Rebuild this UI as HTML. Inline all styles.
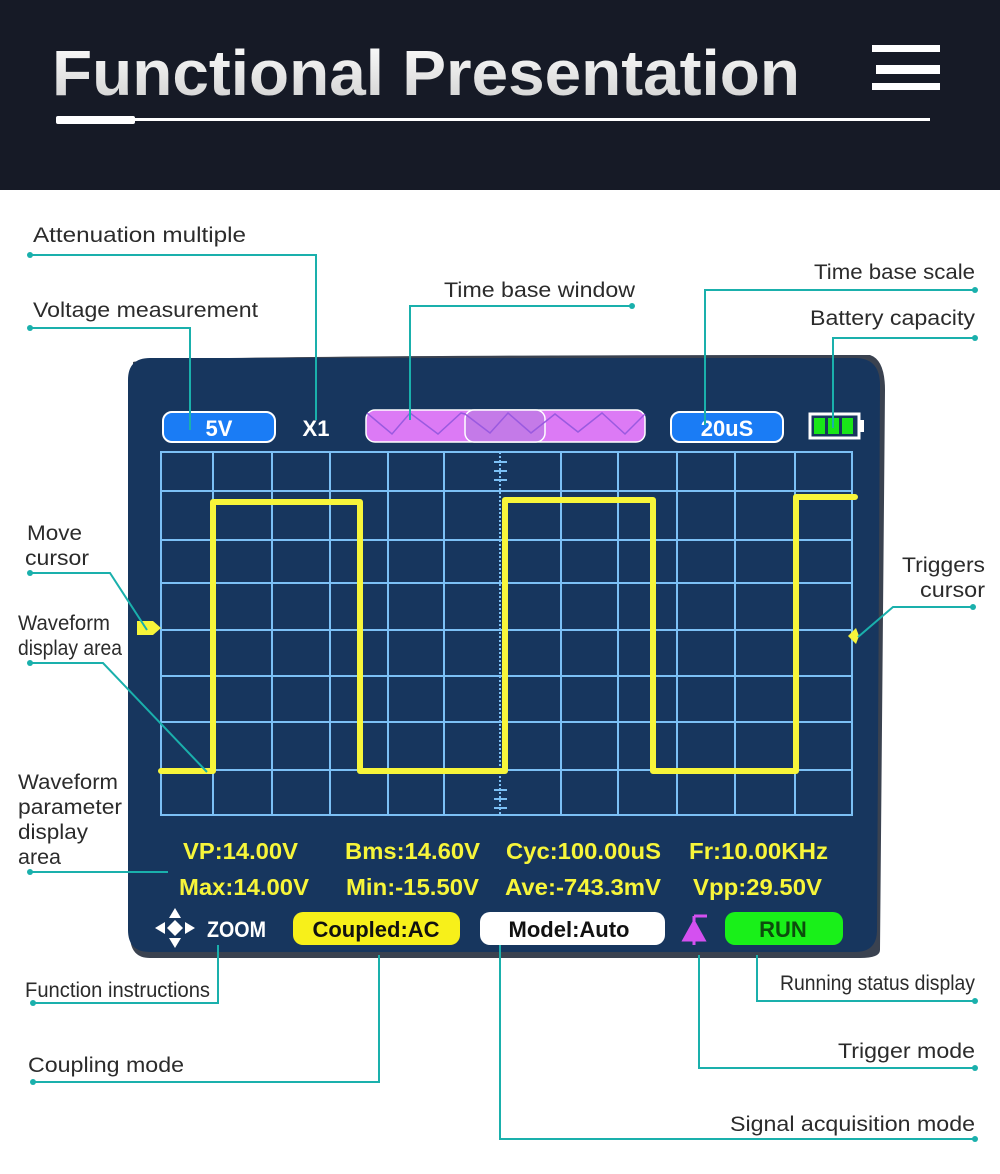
<!DOCTYPE html>
<html><head><meta charset="utf-8"><style>
html,body{margin:0;padding:0;background:#fff}
svg{display:block}
.lb{font-family:"Liberation Sans",sans-serif;font-size:21px;fill:#2b2b2b}
.ln{stroke:#1ab0ac;stroke-width:2;fill:none}
.dt{fill:#1ab0ac}
.p{font-family:"Liberation Sans",sans-serif;font-weight:bold;font-size:23px;fill:#f7f53a}
.b{font-family:"Liberation Sans",sans-serif;font-weight:bold;font-size:22px}
</style></head><body>
<svg width="1000" height="1174" viewBox="0 0 1000 1174" xmlns="http://www.w3.org/2000/svg">
<defs>
<linearGradient id="tg" x1="0" y1="0" x2="0" y2="1"><stop offset="0" stop-color="#ffffff"/><stop offset="1" stop-color="#cfcfcf"/></linearGradient>
</defs>
<rect x="0" y="0" width="1000" height="190" fill="#161a26"/>
<text x="52" y="95" font-family="Liberation Sans, sans-serif" font-weight="bold" font-size="64" fill="url(#tg)" textLength="748" lengthAdjust="spacingAndGlyphs">Functional Presentation</text>
<rect x="56" y="116" width="79" height="8" rx="2" fill="#fff"/>
<rect x="135" y="118" width="795" height="3" fill="#fff"/>
<rect x="872" y="45" width="68" height="7" fill="#fff"/>
<rect x="876" y="65" width="64" height="9" fill="#fff"/>
<rect x="872" y="83" width="68" height="7" fill="#fff"/>

<!-- screen -->
<path d="M133 362 Q160 355 870 355 Q885 360 885 390 L880 950 Q880 958 860 958 L150 958 Q130 958 130 935 Z" fill="#3a4250"/>
<path d="M128 380 Q128 358 150 358 L855 358 Q880 358 880 385 L877 930 Q877 952 855 952 L150 952 Q128 952 128 930 Z" fill="#17365e"/>

<!-- top bar -->
<rect x="163" y="412" width="112" height="30" rx="9" fill="#1a7cf5" stroke="#fff" stroke-width="2"/>
<text class="b" x="219" y="436" fill="#fff" text-anchor="middle">5V</text>
<text class="b" x="316" y="436" fill="#fff" text-anchor="middle">X1</text>
<rect x="366" y="410" width="279" height="32" rx="9" fill="#dc7af5" stroke="#fff" stroke-width="1.5"/>
<rect x="465" y="410" width="80" height="32" rx="9" fill="#c47ae8" stroke="#fff" stroke-width="1.5"/>
<polyline points="367,413 392,434 410,413 438,434 461,413 465,414 490,433 508,413 531,433 555,414 578,432 602,413 625,434 645,414" fill="none" stroke="#9a5ae0" stroke-width="1.5"/>
<rect x="671" y="412" width="112" height="30" rx="9" fill="#1a7cf5" stroke="#fff" stroke-width="2"/>
<text class="b" x="727" y="436" fill="#fff" text-anchor="middle">20uS</text>
<rect x="810" y="414" width="49" height="24" fill="none" stroke="#fff" stroke-width="3"/>
<rect x="859" y="420" width="5" height="12" fill="#fff"/>
<rect x="814" y="418" width="11" height="16" fill="#19e619"/>
<rect x="828" y="418" width="11" height="16" fill="#19e619"/>
<rect x="842" y="418" width="11" height="16" fill="#19e619"/>

<!-- grid -->
<g stroke="#7cc0f5" stroke-width="2" fill="none">
<rect x="161" y="452" width="691" height="363"/>
<line x1="213" y1="452" x2="213" y2="815"/><line x1="272" y1="452" x2="272" y2="815"/>
<line x1="330" y1="452" x2="330" y2="815"/><line x1="388" y1="452" x2="388" y2="815"/>
<line x1="444" y1="452" x2="444" y2="815"/><line x1="561" y1="452" x2="561" y2="815"/>
<line x1="618" y1="452" x2="618" y2="815"/><line x1="677" y1="452" x2="677" y2="815"/>
<line x1="735" y1="452" x2="735" y2="815"/><line x1="795" y1="452" x2="795" y2="815"/>
<line x1="161" y1="491" x2="852" y2="491"/><line x1="161" y1="540" x2="852" y2="540"/>
<line x1="161" y1="583" x2="852" y2="583"/><line x1="161" y1="630" x2="852" y2="630"/>
<line x1="161" y1="676" x2="852" y2="676"/><line x1="161" y1="722" x2="852" y2="722"/>
<line x1="161" y1="770" x2="852" y2="770"/>
<line x1="500" y1="452" x2="500" y2="815" stroke-dasharray="2,2"/>
<line x1="494" y1="462" x2="507" y2="462"/><line x1="494" y1="471" x2="507" y2="471"/><line x1="494" y1="480" x2="507" y2="480"/>
<line x1="494" y1="790" x2="507" y2="790"/><line x1="494" y1="799" x2="507" y2="799"/><line x1="494" y1="808" x2="507" y2="808"/>
</g>
<polyline points="161,771 213,771 213,502 360,502 360,771 505,771 505,500 653,500 653,771 796,771 796,497 855,497" fill="none" stroke="#f7f53a" stroke-width="6" stroke-linejoin="round" stroke-linecap="round"/>
<polygon points="137,621 153,621 161,628 153,635 137,635" fill="#f7f53a"/>
<polygon points="848,636 856,628 859,636 856,644" fill="#f7f53a"/>

<!-- params -->
<text class="p" x="183" y="859" textLength="115" lengthAdjust="spacingAndGlyphs">VP:14.00V</text>
<text class="p" x="345" y="859" textLength="135" lengthAdjust="spacingAndGlyphs">Bms:14.60V</text>
<text class="p" x="506" y="859" textLength="155" lengthAdjust="spacingAndGlyphs">Cyc:100.00uS</text>
<text class="p" x="689" y="859" textLength="139" lengthAdjust="spacingAndGlyphs">Fr:10.00KHz</text>
<text class="p" x="179" y="895" textLength="130" lengthAdjust="spacingAndGlyphs">Max:14.00V</text>
<text class="p" x="346" y="895" textLength="133" lengthAdjust="spacingAndGlyphs">Min:-15.50V</text>
<text class="p" x="505" y="895" textLength="156" lengthAdjust="spacingAndGlyphs">Ave:-743.3mV</text>
<text class="p" x="693" y="895" textLength="129" lengthAdjust="spacingAndGlyphs">Vpp:29.50V</text>

<!-- bottom bar -->
<g fill="#fff">
<polygon points="175,908 181,918 169,918"/><polygon points="175,948 181,938 169,938"/>
<polygon points="155,928 165,922 165,934"/><polygon points="195,928 185,922 185,934"/>
<polygon points="175,920 183,928 175,936 167,928"/>
</g>
<text class="b" x="207" y="937" fill="#fff" textLength="59" lengthAdjust="spacingAndGlyphs">ZOOM</text>
<rect x="293" y="912" width="167" height="33" rx="10" fill="#f7f01a"/>
<text class="b" x="376" y="937" fill="#111" text-anchor="middle">Coupled:AC</text>
<rect x="480" y="912" width="185" height="33" rx="10" fill="#fff"/>
<text class="b" x="569" y="937" fill="#111" text-anchor="middle">Model:Auto</text>
<path d="M684 940 L694 922 L704 940 Z M694 922 L694 945 M694 916 L694 922 M694 916 L707 916" fill="#d450f0" stroke="#d450f0" stroke-width="3"/>
<rect x="725" y="912" width="118" height="33" rx="10" fill="#19f019"/>
<text class="b" x="783" y="937" fill="#0d4d0d" text-anchor="middle">RUN</text>

<!-- labels -->
<text class="lb" x="33" y="242" textLength="213" lengthAdjust="spacingAndGlyphs">Attenuation multiple</text>
<path class="ln" d="M30 255 H316 V420"/><circle class="dt" cx="30" cy="255" r="3"/>
<text class="lb" x="33" y="317" textLength="225" lengthAdjust="spacingAndGlyphs">Voltage measurement</text>
<path class="ln" d="M30 328 H190 V430"/><circle class="dt" cx="30" cy="328" r="3"/>
<text class="lb" x="444" y="297" textLength="191" lengthAdjust="spacingAndGlyphs">Time base window</text>
<path class="ln" d="M632 306 H410 V420"/><circle class="dt" cx="632" cy="306" r="3"/>
<text class="lb" x="814" y="279" textLength="161" lengthAdjust="spacingAndGlyphs">Time base scale</text>
<path class="ln" d="M975 290 H705 V425"/><circle class="dt" cx="975" cy="290" r="3"/>
<text class="lb" x="810" y="325" textLength="165" lengthAdjust="spacingAndGlyphs">Battery capacity</text>
<path class="ln" d="M975 338 H833 V428"/><circle class="dt" cx="975" cy="338" r="3"/>
<text class="lb" x="27" y="540" textLength="55" lengthAdjust="spacingAndGlyphs">Move</text><text class="lb" x="25" y="565" textLength="64" lengthAdjust="spacingAndGlyphs">cursor</text>
<path class="ln" d="M30 573 H110 L147 630"/><circle class="dt" cx="30" cy="573" r="3"/>
<text class="lb" x="18" y="630" textLength="92" lengthAdjust="spacingAndGlyphs">Waveform</text><text class="lb" x="18" y="655" textLength="104" lengthAdjust="spacingAndGlyphs">display area</text>
<path class="ln" d="M30 663 H103 L207 772"/><circle class="dt" cx="30" cy="663" r="3"/>
<text class="lb" x="902" y="572" textLength="83" lengthAdjust="spacingAndGlyphs">Triggers</text><text class="lb" x="920" y="597" textLength="65" lengthAdjust="spacingAndGlyphs">cursor</text>
<path class="ln" d="M973 607 H893 L858 637"/><circle class="dt" cx="973" cy="607" r="3"/>
<text class="lb" x="18" y="789" textLength="100" lengthAdjust="spacingAndGlyphs">Waveform</text><text class="lb" x="18" y="814" textLength="104" lengthAdjust="spacingAndGlyphs">parameter</text>
<text class="lb" x="18" y="839" textLength="70" lengthAdjust="spacingAndGlyphs">display</text><text class="lb" x="18" y="864" textLength="43" lengthAdjust="spacingAndGlyphs">area</text>
<path class="ln" d="M30 872 H168"/><circle class="dt" cx="30" cy="872" r="3"/>
<text class="lb" x="25" y="997" textLength="185" lengthAdjust="spacingAndGlyphs">Function instructions</text>
<path class="ln" d="M33 1003 H218 V945"/><circle class="dt" cx="33" cy="1003" r="3"/>
<text class="lb" x="28" y="1072" textLength="156" lengthAdjust="spacingAndGlyphs">Coupling mode</text>
<path class="ln" d="M33 1082 H379 V955"/><circle class="dt" cx="33" cy="1082" r="3"/>
<text class="lb" x="780" y="990" textLength="195" lengthAdjust="spacingAndGlyphs">Running status display</text>
<path class="ln" d="M975 1001 H757 V955"/><circle class="dt" cx="975" cy="1001" r="3"/>
<text class="lb" x="838" y="1058" textLength="137" lengthAdjust="spacingAndGlyphs">Trigger mode</text>
<path class="ln" d="M975 1068 H699 V955"/><circle class="dt" cx="975" cy="1068" r="3"/>
<text class="lb" x="730" y="1131" textLength="245" lengthAdjust="spacingAndGlyphs">Signal acquisition mode</text>
<path class="ln" d="M975 1139 H500 V945"/><circle class="dt" cx="975" cy="1139" r="3"/>
</svg>
</body></html>
